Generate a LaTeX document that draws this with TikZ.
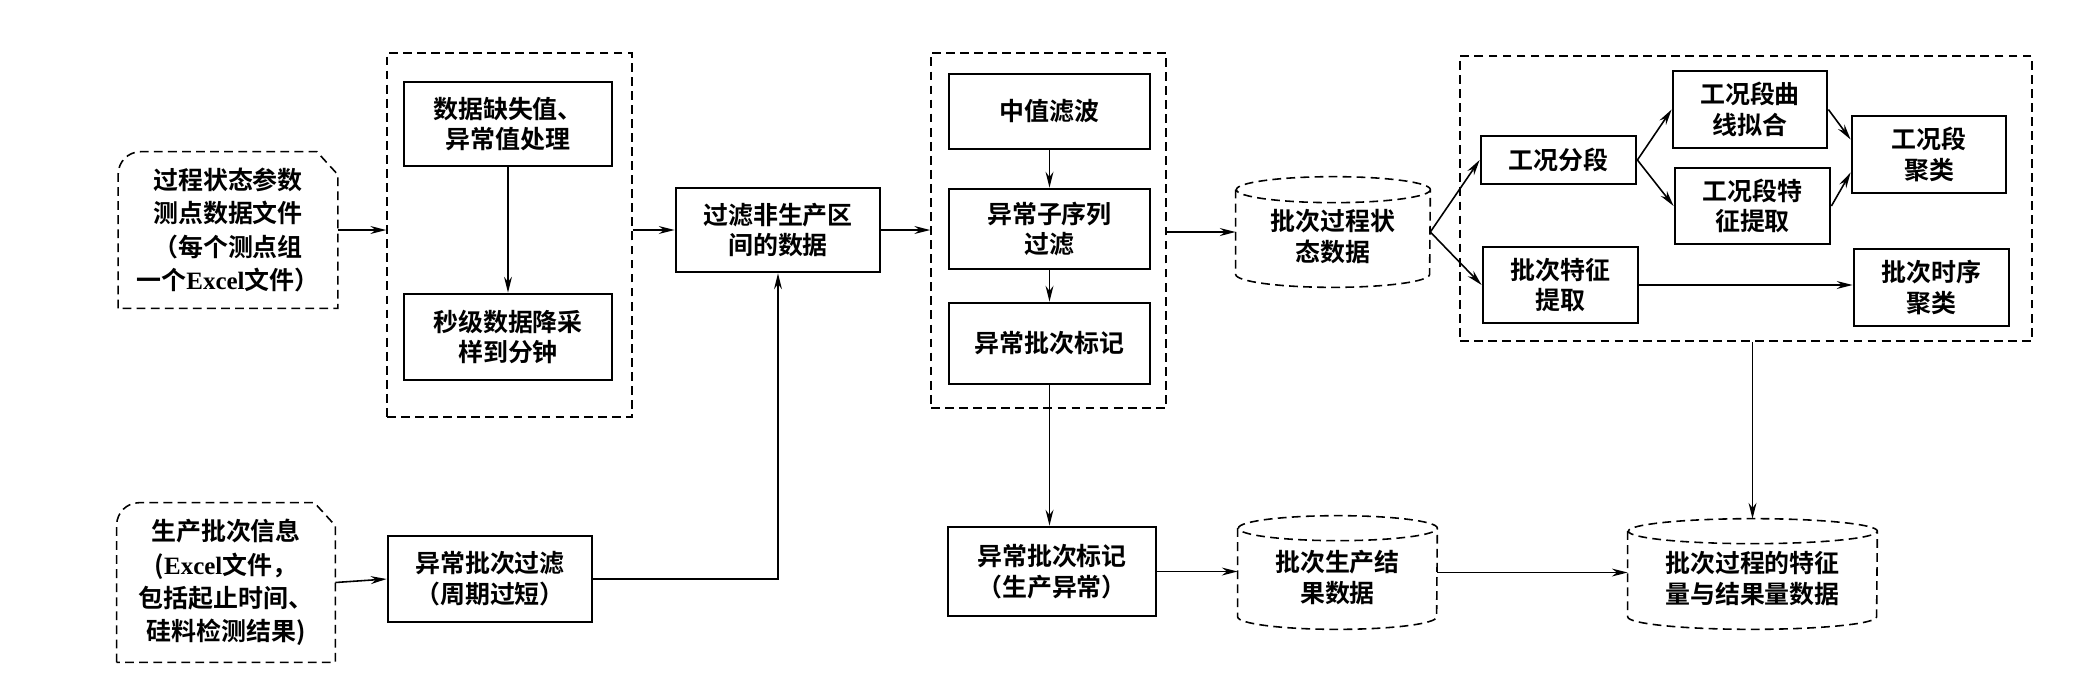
\documentclass[tikz,border=0pt]{standalone}
\usepackage{fontspec}
\setmainfont{Noto Sans CJK SC}[BoldFont={Noto Sans CJK SC Bold}]
\newfontfamily\latinserif{Liberation Serif}
\usetikzlibrary{arrows.meta,calc}
\newcommand{\drawcyl}[3]{%
  \draw[grpline] ($(#1.north west)+(0,-#3)$) -- ($(#1.south west)+(0,#3)$)
    arc[start angle=180,end angle=360,x radius=#2,y radius=#3]
    -- ($(#1.north east)+(0,-#3)$)
    arc[start angle=0,end angle=180,x radius=#2,y radius=#3]
    arc[start angle=180,end angle=360,x radius=#2,y radius=#3];}
\newcommand{\drawdoc}[1]{%
  \draw[grpline] (#1.south west) -- ($(#1.north west)+(0,-0.45cm)$)
    arc[start angle=180,end angle=90,radius=0.45cm]
    -- ($(#1.north east)+(-0.42cm,0)$) -- ($(#1.north east)+(0,-0.46cm)$)
    -- (#1.south east) -- cycle;}
\begin{document}
\begin{tikzpicture}[x=0.02cm,y=-0.02cm,
  font=\fontsize{14.2}{17.5}\selectfont\bfseries,
  box/.style={draw,line width=1.6pt,inner sep=0pt,align=center},
  grpline/.style={draw,line width=0.9pt,dash pattern=on 5pt off 3pt},
  grp/.style={grpline,inner sep=0pt},
  plain/.style={inner sep=0pt,align=center},
  docfont/.style={font=\fontsize{14.2}{19}\selectfont\bfseries},
  arr/.style={line width=0.9pt,-{Stealth[length=9pt,width=4.5pt]}},
  ln/.style={line width=0.9pt}]
\useasboundingbox (0,0) rectangle (2076,684);

% documents
\node[plain,docfont,minimum width=4.38cm,minimum height=3.12cm] (doc1) at (228,230)
  {过程状态参数\\测点数据文件\\（每个测点组\\一个{\latinserif Excel}文件）};
\drawdoc{doc1}
\node[plain,docfont,minimum width=4.36cm,minimum height=3.18cm] (doc2) at (226,582.5)
  {生产批次信息\\({\latinserif Excel}文件，\\包括起止时间、\\硅料检测结果)};
\drawdoc{doc2}

% group 1
\node[grp,minimum width=4.9cm,minimum height=7.28cm] (g1) at (509.5,235) {};
\node[box,minimum width=4.16cm,minimum height=1.68cm] (pa) at (508,124) {数据缺失值、\\异常值处理};
\node[box,minimum width=4.16cm,minimum height=1.72cm] (pb) at (508,337) {秒级数据降采\\样到分钟};

\node[box,minimum width=4.08cm,minimum height=1.68cm] (flt) at (778,230) {过滤非生产区\\间的数据};
\node[box,minimum width=4.08cm,minimum height=1.72cm] (abf) at (490,579) {异常批次过滤\\（周期过短）};

% group 2
\node[grp,minimum width=4.7cm,minimum height=7.1cm] (g2) at (1048.5,230.5) {};
\node[box,minimum width=4.02cm,minimum height=1.5cm] (med) at (1049.5,111.5) {中值滤波};
\node[box,minimum width=4.02cm,minimum height=1.6cm] (sub) at (1049.5,229) {异常子序列\\过滤};
\node[box,minimum width=4.02cm,minimum height=1.62cm] (mrk) at (1049.5,343.5) {异常批次标记};
\node[box,minimum width=4.16cm,minimum height=1.78cm] (pmk) at (1052,571.5) {异常批次标记\\（生产异常）};

% cylinders
\node[plain,minimum width=3.88cm,minimum height=2.2cm] (cy1) at (1333,232) {\\[0pt]批次过程状\\态数据};
\drawcyl{cy1}{1.94cm}{0.26cm}
\node[plain,minimum width=3.98cm,minimum height=2.26cm] (cy2) at (1337.5,572.5) {\\[0pt]批次生产结\\果数据};
\drawcyl{cy2}{1.99cm}{0.25cm}
\node[plain,minimum width=4.98cm,minimum height=2.2cm] (cy3) at (1752.5,574) {\\[0pt]批次过程的特征\\量与结果量数据};
\drawcyl{cy3}{2.49cm}{0.25cm}

% group 3
\node[grp,minimum width=11.44cm,minimum height=5.7cm] (g3) at (1746,198.5) {};
\node[box,minimum width=3.1cm,minimum height=0.96cm] (seg) at (1558.5,160) {工况分段};
\node[box,minimum width=3.08cm,minimum height=1.54cm] (fit) at (1750,109.5) {工况段曲\\线拟合};
\node[box,minimum width=3.1cm,minimum height=1.52cm] (sfe) at (1752.5,206) {工况段特\\征提取};
\node[box,minimum width=3.08cm,minimum height=1.54cm] (scl) at (1929,154.5) {工况段\\聚类};
\node[box,minimum width=3.1cm,minimum height=1.52cm] (bfe) at (1560.5,285) {批次特征\\提取};
\node[box,minimum width=3.1cm,minimum height=1.54cm] (bcl) at (1931.5,287.5) {批次时序\\聚类};

% connectors
\draw[arr] (doc1.east) -- (doc1.east -| g1.west);
\draw[arr] (pa) -- (pb);
\draw[arr] (g1.east |- flt.west) -- (flt.west);
\draw[arr] (flt.east) -- (flt.east -| g2.west);
\draw[arr] (med) -- (sub);
\draw[arr] (sub) -- (mrk);
\draw[arr] (g2.east |- cy1.west) -- (cy1.west);
\draw[arr] (cy1.east) -- (seg.west);
\draw[arr] (cy1.east) -- (bfe.west);
\draw[arr] (seg.east) -- (fit.west);
\draw[arr] (seg.east) -- (sfe.west);
\draw[arr] (fit.east) -- ($(scl.west)+(0,-15)$);
\draw[arr] (sfe.east) -- ($(scl.west)+(0,18)$);
\draw[arr] (bfe.east) -- (bfe.east -| bcl.west);
\draw[arr] (doc2.east) -- (abf.west);
\draw[arr] (abf.east) -| (flt.south);
\draw[arr] (mrk.south) -- (mrk.south |- pmk.north);
\draw[arr] (pmk.east) -- (pmk.east -| cy2.west);
\draw[arr] (cy2.east) -- (cy2.east -| cy3.west);
\draw[arr] (cy3.north |- g3.south) -- (cy3.north);
\end{tikzpicture}
\end{document}
